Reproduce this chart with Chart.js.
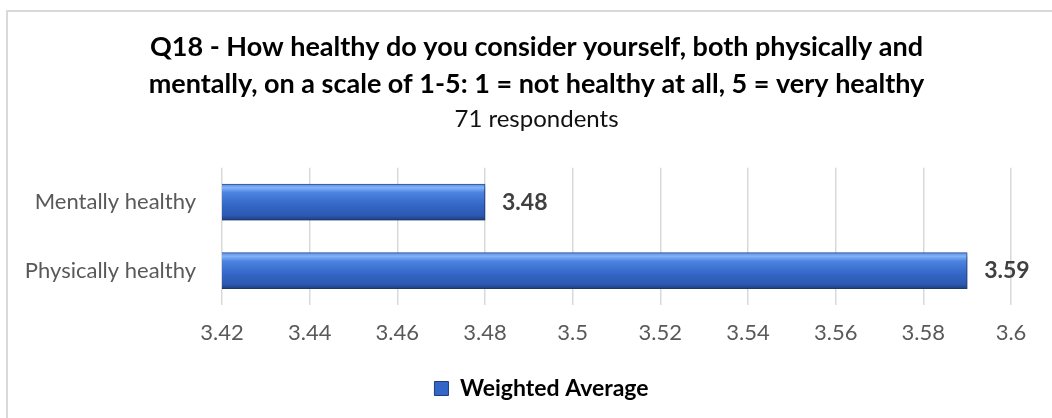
<!DOCTYPE html>
<html>

<head>
    <title>Q18 Weighted Average</title>
    <script src="https://cdn.jsdelivr.net/npm/chart.js"></script>
    <style type="text/css">
        body {
            margin: 0;
            background: #fff;
            overflow: hidden;
        }

        .frame {
            position: absolute;
            left: 6px;
            top: 10px;
            width: 1046px;
            height: 406px;
            border-left: 2px solid #d9d9d9;
            border-top: 2px solid #d9d9d9;
        }
    </style>
</head>

<body>
    <div class="frame">
        <canvas id="myChart"></canvas>
    </div>

    <script>
        const categories = ['Mentally healthy', 'Physically healthy'];
        const weightedAverage = [3.48, 3.59];
        const tickLabels = ['3.42', '3.44', '3.46', '3.48', '3.5', '3.52', '3.54', '3.56', '3.58', '3.6'];
        const seriesName = 'Weighted Average';

        const FONT = 'Lato, "Open Sans", sans-serif';
        const BAR_H = 36;

        // blue bar with a light top edge and darker bottom, like the office bevel
        function barGradient(ctx) {
            const chart = ctx.chart;
            const y = chart.scales.y;
            if (!y || ctx.dataIndex === undefined) return '#3468c8';
            const yc = y.getPixelForValue(ctx.dataIndex);
            const g = chart.ctx.createLinearGradient(0, yc - BAR_H / 2, 0, yc + BAR_H / 2);
            g.addColorStop(0, '#5d8fe6');
            g.addColorStop(0.1, '#82b2f6');
            g.addColorStop(0.24, '#4c82e0');
            g.addColorStop(0.6, '#3366c6');
            g.addColorStop(0.88, '#2c58b0');
            g.addColorStop(1, '#1d3d7c');
            return g;
        }

        const shadowPlugin = {
            id: 'barShadow',
            beforeDatasetsDraw(chart) {
                const c = chart.ctx;
                c.save();
                c.shadowColor = 'rgba(0,0,0,0.35)';
                c.shadowBlur = 4;
                c.shadowOffsetX = 2;
                c.shadowOffsetY = 3;
            },
            afterDatasetsDraw(chart) {
                chart.ctx.restore();
            }
        };

        // the original frame runs past the right edge, so the titles sit a bit right of the plot centre
        const shiftBoxes = {
            id: 'shiftBoxes',
            afterLayout(chart) {
                const scales = Object.values(chart.scales);
                chart.boxes.forEach(box => {
                    if (scales.includes(box)) return;
                    const dx = box.position === 'bottom' ? 27 : 22;
                    box.left += dx;
                    box.right += dx;
                });
            }
        };

        const valueLabels = {
            id: 'valueLabels',
            afterDraw(chart) {
                const c = chart.ctx;
                const meta = chart.getDatasetMeta(0);
                c.save();
                c.font = 'bold 23px ' + FONT;
                c.fillStyle = '#404040';
                c.textBaseline = 'middle';
                c.textAlign = 'left';
                meta.data.forEach((bar, i) => {
                    c.fillText(weightedAverage[i].toFixed(2), bar.x + 17, bar.y);
                });
                c.restore();
            }
        };

        var ctx = document.getElementById('myChart').getContext('2d');
        var myChart = new Chart(ctx, {
            type: 'bar',
            data: {
                labels: categories,
                datasets: [{
                    label: seriesName,
                    data: weightedAverage,
                    backgroundColor: barGradient,
                    borderColor: '#2a4f98',
                    borderWidth: 1,
                    borderSkipped: 'left',
                    barThickness: BAR_H
                }]
            },
            options: {
                indexAxis: 'y',
                responsive: true,
                maintainAspectRatio: false,
                animation: false,
                layout: {
                    padding: { left: 10, right: 43, top: 0, bottom: 8 }
                },
                scales: {
                    x: {
                        min: 3.42,
                        max: 3.6,
                        ticks: {
                            stepSize: 0.02,
                            color: '#595959',
                            font: { family: FONT, size: 22 },
                            padding: 15,
                            callback: (v, i) => tickLabels[i]
                        },
                        grid: { color: '#d9d9d9', lineWidth: 1.5, drawTicks: false },
                        border: { display: false },
                        afterFit(scale) {
                            scale.height = 62;
                        }
                    },
                    y: {
                        ticks: {
                            color: '#595959',
                            font: { family: FONT, size: 22 },
                            padding: 18
                        },
                        grid: { display: false },
                        border: { display: false },
                        afterFit(scale) {
                            scale.width = 204;
                        }
                    }
                },
                plugins: {
                    title: {
                        display: true,
                        text: ['Q18 - How healthy do you consider yourself, both physically and',
                            'mentally, on a scale of 1-5: 1 = not healthy at all, 5 = very healthy'],
                        color: '#000',
                        font: { family: FONT, size: 27, weight: 'bold', lineHeight: 1.37 },
                        padding: { top: 17, bottom: 0 }
                    },
                    subtitle: {
                        display: true,
                        text: '71 respondents',
                        color: '#111',
                        font: { family: FONT, size: 24, lineHeight: 1.2 },
                        padding: { top: 2, bottom: 34 }
                    },
                    legend: {
                        position: 'bottom',
                        labels: {
                            color: '#111',
                            font: { family: FONT, size: 23, weight: 'bold' },
                            boxWidth: 14,
                            boxHeight: 14,
                            padding: 10,
                            generateLabels: () => [{
                                text: seriesName,
                                fillStyle: '#3366c6',
                                strokeStyle: '#1d3d7c',
                                lineWidth: 1,
                                datasetIndex: 0
                            }]
                        }
                    },
                    tooltip: { enabled: false }
                }
            },
            plugins: [shadowPlugin, shiftBoxes, valueLabels]
        });
    </script>
</body>

</html>
